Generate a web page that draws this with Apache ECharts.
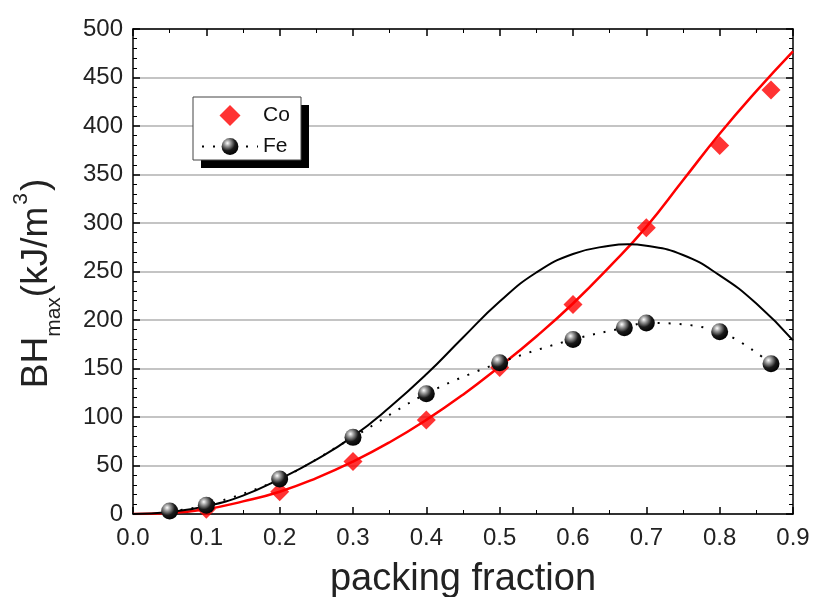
<!DOCTYPE html>
<html><head><meta charset="utf-8">
<script src="https://cdn.jsdelivr.net/npm/echarts@6/dist/echarts.min.js"></script>
<style>html,body{margin:0;padding:0;background:#fff}#c{width:813px;height:597px}</style>
</head><body><div id="c"></div>
<script>
// Measured data
const coX = [0.1, 0.2, 0.3, 0.4, 0.5, 0.6, 0.7, 0.8, 0.87];
const coY = [5, 23, 54, 97, 151, 216, 295, 380, 437];
const feX = [0.05, 0.1, 0.2, 0.3, 0.4, 0.5, 0.6, 0.67, 0.7, 0.8, 0.87];
const feY = [3, 9, 36, 79, 124, 156, 180, 192, 197, 188, 155];
const coFitX = [0, 0.05, 0.1, 0.15, 0.2, 0.25, 0.3, 0.35, 0.4, 0.45, 0.5, 0.55, 0.6, 0.65, 0.7, 0.75, 0.8, 0.85, 0.9];
const coFitY = [0, 1, 5, 13, 23, 37, 54, 74, 97, 123, 152, 183, 217, 255, 296, 344, 392, 436, 477];
const feTheoryX = [0, 0.05, 0.1, 0.15, 0.2, 0.25, 0.3, 0.35, 0.4, 0.45, 0.5, 0.55, 0.6, 0.65, 0.675, 0.7, 0.75, 0.8, 0.85, 0.9];
const feTheoryY = [0, 2, 8, 19, 36, 56, 80, 110, 144, 182, 219, 249, 268, 276.5, 278, 276.5, 267, 246, 217, 179];
const xTicks = [0.0, 0.1, 0.2, 0.3, 0.4, 0.5, 0.6, 0.7, 0.8, 0.9];
const yTicks = [0, 50, 100, 150, 200, 250, 300, 350, 400, 450, 500];

const zip = (xs, ys) => xs.map((x, i) => [x, ys[i]]);
const FONT = 'Liberation Sans';
const sphere = new echarts.graphic.RadialGradient(0.35, 0.3, 0.75, [
  {offset: 0, color: '#ffffff'},
  {offset: 0.25, color: '#9a9a9a'},
  {offset: 0.6, color: '#1a1a1a'},
  {offset: 1, color: '#000000'}
]);

const chart = echarts.init(document.getElementById('c'), null, {renderer: 'canvas'});
const axisCommon = {
  type: 'value',
  axisLine: {show: true, onZero: false, lineStyle: {color: '#000', width: 1.5}},
  axisTick: {show: true, inside: true, length: 7, lineStyle: {color: '#000', width: 1.5}},
  minorTick: {show: true, length: 4, lineStyle: {color: '#000', width: 1}},
  splitLine: {show: false}
};
chart.setOption({
  animation: false,
  backgroundColor: '#fff',
  textStyle: {fontFamily: FONT},
  grid: {left: 133, right: 20, top: 29, bottom: 83, containLabel: false, outerBoundsMode: 'none'},
  xAxis: [
    Object.assign({}, axisCommon, {
      position: 'bottom', min: xTicks[0], max: xTicks[xTicks.length - 1], interval: 0.1,
      minorTick: Object.assign({}, axisCommon.minorTick, {splitNumber: 2}),
      axisLabel: {show: true, margin: 12, fontSize: 24, color: '#222', fontFamily: FONT,
        formatter: v => (Math.round(v * 10) / 10).toFixed(1)},
      name: 'packing fraction', nameLocation: 'middle', nameGap: 47,
      nameTextStyle: {fontSize: 38, color: '#222', fontFamily: FONT}
    }),
    Object.assign({}, axisCommon, {
      position: 'top', min: 0, max: 0.9, interval: 0.1,
      minorTick: Object.assign({}, axisCommon.minorTick, {splitNumber: 2}),
      axisLabel: {show: false}
    })
  ],
  yAxis: [
    Object.assign({}, axisCommon, {
      position: 'left', min: yTicks[0], max: yTicks[yTicks.length - 1], interval: 50,
      minorTick: Object.assign({}, axisCommon.minorTick, {splitNumber: 5}),
      axisLabel: {show: true, margin: 10, fontSize: 24, color: '#222', fontFamily: FONT},
      splitLine: {show: true, lineStyle: {color: '#c4c4c4', width: 2}},
      name: '{a|BH}{s|max}{a|(kJ/m}{p|3}{a|)}', nameLocation: 'middle', nameGap: 78, nameRotate: 90,
      nameTextStyle: {color: '#222', fontFamily: FONT, padding: [0, 24, 0, 0],
        rich: {
          a: {fontSize: 37, color: '#222', fontFamily: FONT, verticalAlign: 'bottom', lineHeight: 44},
          s: {fontSize: 21, color: '#222', fontFamily: FONT, verticalAlign: 'bottom', padding: [0, 0, -10, 0], lineHeight: 44},
          p: {fontSize: 21, color: '#222', fontFamily: FONT, verticalAlign: 'top', padding: [0, 2, 18, 2], lineHeight: 44}
        }}
    }),
    Object.assign({}, axisCommon, {
      position: 'right', min: 0, max: 500, interval: 50,
      minorTick: Object.assign({}, axisCommon.minorTick, {splitNumber: 5}),
      axisLabel: {show: false}
    })
  ],
  legend: {
    orient: 'vertical', left: 196, top: 100, itemWidth: 56, itemHeight: 21, itemGap: 10,
    symbolKeepAspect: true,
    data: [{name: 'Co', icon: 'path://M0,-10L10,0L0,10L-10,0Z'}, {name: 'Fe'}], z: 10,
    textStyle: {fontSize: 21, color: '#111', fontFamily: FONT, padding: [0, 0, 0, 0]}
  },
  graphic: [
    {type: 'rect', z: 5, shape: {x: 201, y: 105, width: 108, height: 63}, style: {fill: '#000'}},
    {type: 'rect', z: 6, shape: {x: 193, y: 97, width: 108, height: 63}, style: {fill: '#fff', stroke: '#444', lineWidth: 1}}
  ],
  series: [
    {name: 'Co fit', type: 'line', data: zip(coFitX, coFitY), smooth: 0.5, showSymbol: false, silent: true,
      lineStyle: {color: '#ff0000', width: 2.5}, z: 2},
    {name: 'Fe theory', type: 'line', data: zip(feTheoryX, feTheoryY), smooth: 0.5, showSymbol: false, silent: true,
      lineStyle: {color: '#000', width: 2}, z: 2},
    {name: 'Fe', type: 'line', data: zip(feX, feY), smooth: 0.35, symbol: 'circle', symbolSize: 17, showSymbol: true,
      lineStyle: {color: '#000', width: 2, type: [2, 9]}, itemStyle: {color: sphere, borderWidth: 0}, z: 4},
    {name: 'Co', type: 'scatter', data: zip(coX, coY), symbol: 'diamond', symbolSize: 19,
      itemStyle: {color: '#ff0000'}, z: 3}
  ]
});
</script></body></html>
